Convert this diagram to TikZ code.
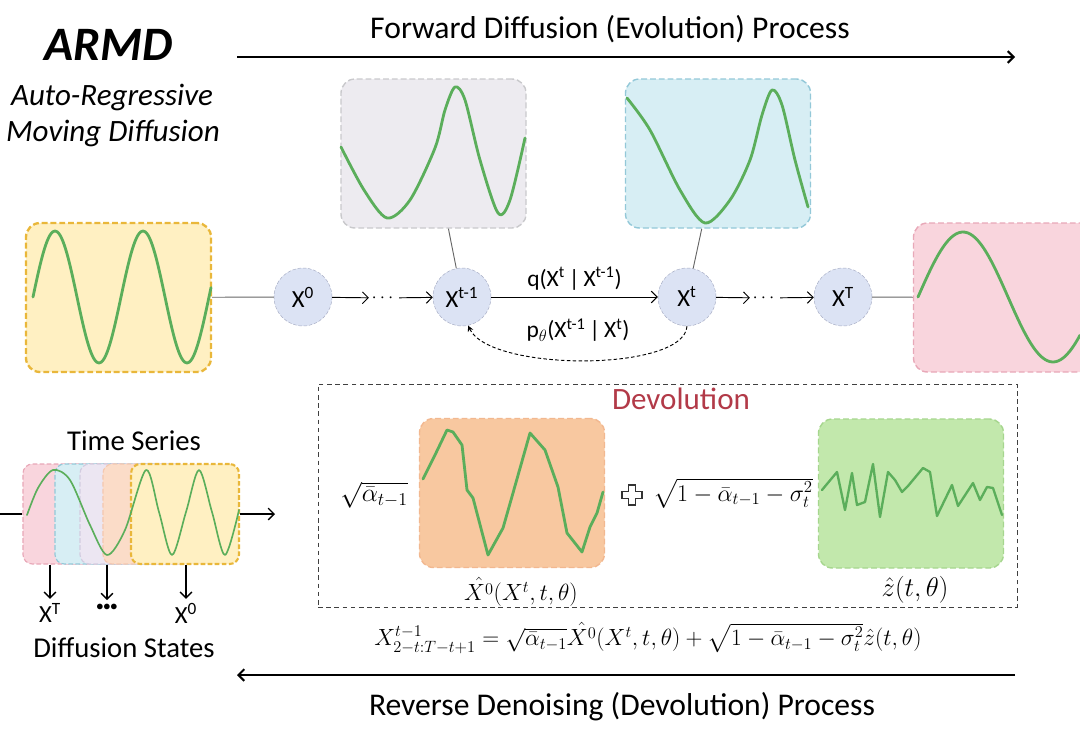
\RequirePackage{fix-cm}
\documentclass[tikz,border=0pt]{standalone}
\usepackage[no-math]{fontspec}
\setmainfont{Carlito}
\usepackage{amsmath,amssymb}
\usetikzlibrary{arrows.meta}

\definecolor{wavegreen}{HTML}{5BAE5B}
\definecolor{yfill}{HTML}{FFF0C2}
\definecolor{yline}{HTML}{E9B73A}
\definecolor{gfill}{HTML}{EDEBF0}
\definecolor{gline}{HTML}{C9C9CC}
\definecolor{bfill}{HTML}{D7EEF4}
\definecolor{bline}{HTML}{93C8D8}
\definecolor{pfill}{HTML}{F9D5DD}
\definecolor{pline}{HTML}{E8A8B8}
\definecolor{ofill}{HTML}{F8C8A0}
\definecolor{oline}{HTML}{F2B890}
\definecolor{nfill}{HTML}{C2E8AC}
\definecolor{nline}{HTML}{A6D68E}
\definecolor{lfill}{HTML}{ECE6F2}
\definecolor{lline}{HTML}{D2CCE0}
\definecolor{cfill}{HTML}{FBDCC8}
\definecolor{cline}{HTML}{F4C8B0}
\definecolor{stfill}{HTML}{DCE3F4}
\definecolor{stline}{HTML}{A5ABC3}
\definecolor{devred}{HTML}{B23A48}

\begin{document}
\begin{tikzpicture}[x=0.03cm,y=-0.03cm,>={Straight Barb[length=5pt,width=10pt]},
  wbox/.style={rounded corners=12pt,dash pattern=on 5pt off 2.5pt,line width=1.2pt,
    minimum width=5.55cm,minimum height=4.47cm,inner sep=0pt},
  sbox/.style={rounded corners=8pt,dash pattern=on 4pt off 2pt,line width=1pt,
    minimum width=3.24cm,minimum height=3cm,inner sep=0pt},
  state/.style={circle,fill=stfill,draw=stline,dash pattern=on 3pt off 1.5pt,
    minimum size=1.74cm,inner sep=0pt,font=\fontsize{21}{25}\selectfont},
  wave/.style={wavegreen,line width=2.4pt,line join=round,line cap=round},
  lbl/.style={font=\fontsize{24.5}{28}\selectfont},
  big/.style={font=\fontsize{27}{32}\selectfont}]
  \useasboundingbox (0,0) rectangle (1080,744);

  % title
  \node[font=\fontsize{41}{46}\selectfont\bfseries\itshape] (title) at (109,45) {ARMD};
  \node[font=\fontsize{26.5}{30}\selectfont\itshape] (sub1) at (112,97) {Auto-Regressive};
  \node[font=\fontsize{26.5}{30}\selectfont\itshape] (sub2) at (113,133) {Moving Diffusion};

  % forward process
  \coordinate (fw0) at (237,57);
  \coordinate (fw1) at (1015,57);
  \draw[line width=1.7pt,->] (fw0) -- (fw1);
  \node[big] (fwtext) at (610,29) {Forward Diffusion (Evolution) Process};

  % boxes of the chain
  \node[wbox,fill=yfill,draw=yline,line width=2pt] (box0) at (118.5,297.5) {};
  \node[wbox,fill=gfill,draw=gline] (boxprev) at (433.5,153.5) {};
  \node[wbox,fill=bfill,draw=bline] (boxcur) at (718,153.5) {};
  \node[wbox,fill=pfill,draw=pline] (boxT) at (1006,297.5) {};

  \draw[wave] plot[smooth,domain=33:211,samples=90] (\x,{297-66*sin((\x-33)/88*360)});
  \draw[wave] plot[smooth] coordinates {(341,147) (364,190) (387,218) (410,200) (435,148)
    (445,110) (455,87) (465,100) (480,160) (498,213) (510,200) (525,138)};
  \draw[wave] plot[smooth] coordinates {(627,98) (650,130) (680,190) (705,223) (730,200)
    (750,160) (762,115) (772,90) (782,105) (795,160) (808,207)};
  \draw[wave] plot[smooth,domain=918:1080,samples=60] (\x,{297-65*sin((\x-918)/180*360)});

  % states
  \node[state] (x0) at (303,297) {X\textsuperscript{0}};
  \node[state] (xprev) at (462,297) {X\textsuperscript{t-1}};
  \node[state] (xcur) at (687,297) {X\textsuperscript{t}};
  \node[state] (xT) at (843,297) {X\textsuperscript{T}};
  \node[font=\fontsize{16}{18}\selectfont,inner sep=2pt] (dots1) at (384,298) {$\cdots$};
  \node[font=\fontsize{16}{18}\selectfont,inner sep=2pt] (dots2) at (765,298) {$\cdots$};

  \draw[gray!80!black,line width=0.8pt] (box0) -- (x0);
  \draw[line width=0.8pt,->] (x0) -- (dots1);
  \draw[line width=0.8pt,->] (dots1) -- (xprev);
  \draw[line width=0.8pt,->] (xprev) -- (xcur)
    node[midway,above=2pt,font=\fontsize{20}{24}\selectfont] (qlbl)
    {q(X\textsuperscript{t}\,|\,X\textsuperscript{t-1})};
  \draw[line width=0.8pt,->] (xcur) -- (dots2);
  \draw[line width=0.8pt,->] (dots2) -- (xT);
  \draw[gray!80!black,line width=0.8pt] (xT) -- (boxT);
  \draw[gray!80!black,line width=0.8pt] (boxprev) -- (xprev);
  \draw[gray!80!black,line width=0.8pt] (boxcur) -- (xcur);
  \draw[line width=0.8pt,dash pattern=on 3pt off 2pt,-{Stealth[length=5pt,width=5pt]}]
    (xcur.south) .. controls (684,372) and (490,372) .. (xprev.-78);
  \node[font=\fontsize{20}{24}\selectfont] (plbl) at (578,330)
    {p\textsubscript{$\theta$}(X\textsuperscript{t-1}\,|\,X\textsuperscript{t})};

  % devolution
  \node[draw=black!75,dash pattern=on 4pt off 3pt,line width=0.8pt,minimum width=20.97cm,
    minimum height=6.69cm,inner sep=0pt] (devbox) at (667.5,495.5) {};
  \node[font=\fontsize{26.5}{30}\selectfont,text=devred] (devtext) at (681,399) {Devolution};
  \node[wbox,fill=ofill,draw=oline] (boxhat) at (512,493) {};
  \node[wbox,fill=nfill,draw=nline] (boxz) at (911,493.5) {};
  \draw[wave] plot coordinates {(423,479) (435,455) (447,430) (453,432) (462,445) (467,490)
    (473,498) (488,555) (503,528) (513,493) (530,433) (545,450) (558,487) (567,533)
    (582,552) (590,527) (597,513) (603,492)};
  \draw[wave,line width=2pt] plot coordinates {(822,490) (837,472) (845,510) (852,473)
    (857,505) (865,502) (873,464) (880,517) (888,472) (895,480) (902,492) (908,486)
    (923,468) (930,472) (937,516) (952,485) (958,506) (973,483) (980,500) (987,487)
    (993,488) (1002,515)};
  \node[font=\fontsize{22}{26}\selectfont,inner sep=0pt] (sqa) at (374,495)
    {$\sqrt{\bar{\alpha}_{t-1}}$};
  \draw[black!80,line width=1pt,shift={(632,495)}] (-3.5,-10) -- (3.5,-10) -- (3.5,-3.5)
    -- (10,-3.5) -- (10,3.5) -- (3.5,3.5) -- (3.5,10) -- (-3.5,10) -- (-3.5,3.5)
    -- (-10,3.5) -- (-10,-3.5) -- (-3.5,-3.5) -- cycle;
  \node[font=\fontsize{20.5}{24}\selectfont,inner sep=0pt] (sqb) at (733,493)
    {$\sqrt{1-\bar{\alpha}_{t-1}-\sigma_t^2}$};
  \node[font=\fontsize{20}{24}\selectfont,inner sep=0pt] (hatlbl) at (521,592)
    {$\hat{X^0}(X^t,t,\theta)$};
  \node[font=\fontsize{23}{27}\selectfont,inner sep=0pt] (zlbl) at (915,590)
    {$\hat{z}(t,\theta)$};
  \node[font=\fontsize{20}{24}\selectfont,inner sep=0pt] (formula) at (648,638)
    {$X^{t-1}_{2-t:T-t+1}=\sqrt{\bar{\alpha}_{t-1}}\hat{X^0}(X^t,t,\theta)
      +\sqrt{1-\bar{\alpha}_{t-1}-\sigma_t^2}\hat{z}(t,\theta)$};

  % reverse process
  \coordinate (rv0) at (1015,675);
  \coordinate (rv1) at (237,675);
  \draw[line width=1.7pt,->] (rv0) -- (rv1);
  \node[big] (rvtext) at (622,707) {Reverse Denoising (Devolution) Process};

  % time series with moving windows
  \node[lbl] (tstext) at (134,441) {Time Series};
  \node[sbox,fill=pfill,draw=pline] (spink) at (77,514) {};
  \node[sbox,fill=bfill,draw=bline] (sblue) at (109,514) {};
  \node[sbox,fill=lfill,draw=lline] (slav) at (134,514) {};
  \node[sbox,fill=cfill,draw=cline] (speach) at (157,514) {};
  \node[sbox,fill=yfill,draw=yline,line width=1.8pt] (syellow) at (185,514) {};
  \draw[wave,line width=1.4pt] plot[smooth] coordinates {(27,515) (38,488) (53,470)
    (70,480) (90,525) (107,555) (125,530) (146,470) (159,512) (172,555) (186,512)
    (199,470) (212,512) (225,555) (239,510)};
  \coordinate (tsin) at (0,514);
  \coordinate (tsout) at (275,514);
  \draw[line width=1.2pt] (tsin) -- (spink);
  \draw[line width=1.2pt,->] (syellow) -- (tsout);
  \node[font=\fontsize{21}{25}\selectfont] (sT) at (50,613) {X\textsuperscript{T}};
  \node[font=\fontsize{26}{30}\selectfont\bfseries] (sdots) at (107,610)
    {\textperiodcentered\kern-1pt\textperiodcentered\kern-1pt\textperiodcentered};
  \node[font=\fontsize{21}{25}\selectfont] (s0) at (186,613) {X\textsuperscript{0}};
  \draw[line width=1.2pt,->] (spink.south -| sT) -- (sT);
  \draw[line width=1.2pt,->] (sblue.south -| sdots) -- (sdots);
  \draw[line width=1.2pt,->] (syellow.south -| s0) -- (s0);
  \node[lbl] (dstext) at (124,648) {Diffusion States};
\end{tikzpicture}
\end{document}
